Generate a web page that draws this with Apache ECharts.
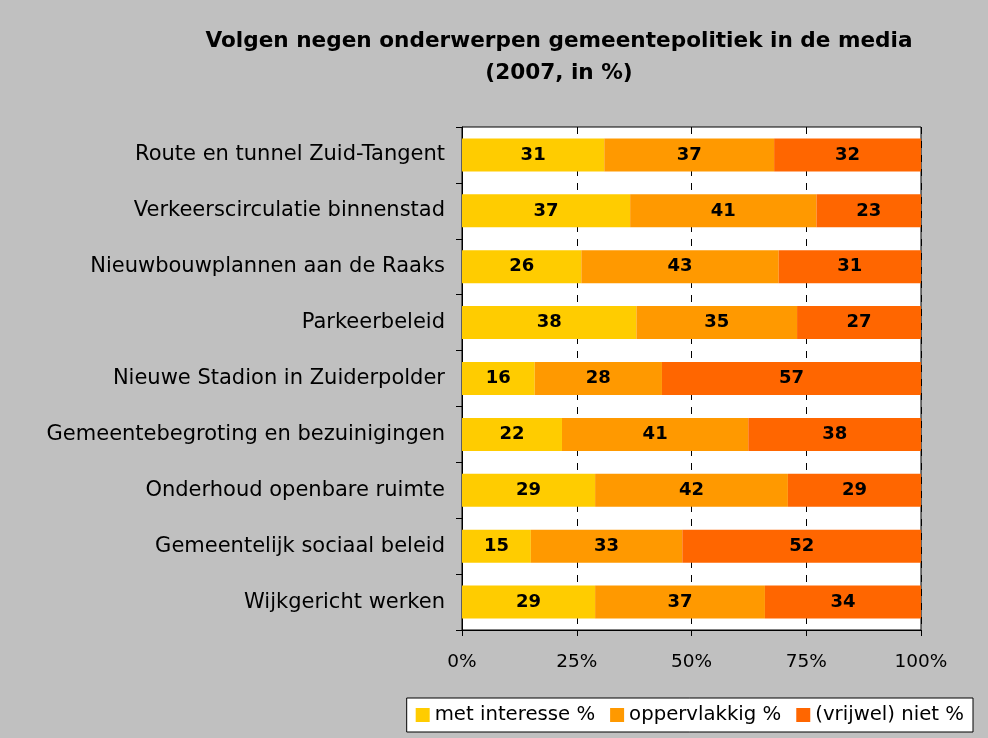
<!DOCTYPE html>
<html>
<head>
<meta charset="utf-8">
<script src="https://cdn.jsdelivr.net/npm/echarts@6/dist/echarts.min.js"></script>
<style>
  html, body { margin: 0; padding: 0; background: #c0c0c0; }
  #main { width: 988px; height: 738px; }
</style>
</head>
<body>
<div id="main"></div>
<script>
// onderwerpen (van boven naar beneden)
var categories = [
    'Route en tunnel Zuid-Tangent',
    'Verkeerscirculatie binnenstad',
    'Nieuwbouwplannen aan de Raaks',
    'Parkeerbeleid',
    'Nieuwe Stadion in Zuiderpolder',
    'Gemeentebegroting en bezuinigingen',
    'Onderhoud openbare ruimte',
    'Gemeentelijk sociaal beleid',
    'Wijkgericht werken'
];
var seriesNames = ['met interesse %', 'oppervlakkig %', '(vrijwel) niet %'];
var metInteresse = [31, 37, 26, 38, 16, 22, 29, 15, 29];
var oppervlakkig = [37, 41, 43, 35, 28, 41, 42, 33, 37];
var niet = [32, 23, 31, 27, 57, 38, 29, 52, 34];
var xTicks = [0, 25, 50, 75, 100];
var colors = ['#ffcc00', '#ff9900', '#ff6600'];

var font = '"DejaVu Sans", Verdana, sans-serif';
var chart = echarts.init(document.getElementById('main'));

// 100% gestapeld: elke rij herschalen naar totaal 100, label toont de ruwe waarde
var raw = [metInteresse, oppervlakkig, niet];
var series = raw.map(function (vals, s) {
    return {
        name: seriesNames[s],
        type: 'bar',
        stack: 'totaal',
        barWidth: 33,
        itemStyle: { color: colors[s] },
        label: {
            show: true,
            position: 'inside',
            color: '#000',
            fontFamily: font,
            fontWeight: 'bold',
            fontSize: 18,
            formatter: function (p) { return p.data.raw; }
        },
        data: vals.map(function (v, i) {
            var tot = metInteresse[i] + oppervlakkig[i] + niet[i];
            return { value: v / tot * 100, raw: v };
        })
    };
});

var option = {
    backgroundColor: '#c0c0c0',
    animation: false,
    title: {
        text: 'Volgen negen onderwerpen gemeentepolitiek in de media\n(2007, in %)',
        left: 554,
        top: 20,
        textAlign: 'center',
        textStyle: {
            fontFamily: font,
            fontWeight: 'bold',
            fontSize: 21.6,
            lineHeight: 32,
            color: '#000'
        }
    },
    grid: {
        left: 462,
        right: 67,
        top: 127,
        bottom: 108,
        show: true,
        backgroundColor: '#fff',
        borderColor: '#000',
        borderWidth: 1
    },
    legend: {
        right: 15,
        bottom: 6,
        data: seriesNames,
        icon: 'rect',
        itemWidth: 14,
        itemHeight: 14,
        itemGap: 15,
        backgroundColor: '#fff',
        borderColor: '#000',
        borderWidth: 1,
        borderRadius: 0,
        padding: [7, 9, 7, 9],
        textStyle: { fontFamily: font, fontSize: 19.7, color: '#000' }
    },
    xAxis: {
        type: 'value',
        min: 0,
        max: 100,
        interval: 25,
        axisLine: { show: true, lineStyle: { color: '#000' } },
        axisTick: { show: true, length: 6, lineStyle: { color: '#000' } },
        axisLabel: {
            margin: 23,
            fontFamily: font,
            fontSize: 18.5,
            color: '#000',
            formatter: function (v) { return xTicks.indexOf(v) >= 0 ? v + '%' : ''; }
        },
        splitLine: { show: true, lineStyle: { color: '#000', type: [7, 7], width: 1 } }
    },
    yAxis: {
        type: 'category',
        inverse: true,
        data: categories,
        axisLine: { show: true, lineStyle: { color: '#000' } },
        axisTick: { show: true, length: 6, lineStyle: { color: '#000' } },
        axisLabel: {
            margin: 17,
            fontFamily: font,
            fontSize: 21,
            color: '#000'
        }
    },
    series: series
};
chart.setOption(option);
</script>
</body>
</html>
